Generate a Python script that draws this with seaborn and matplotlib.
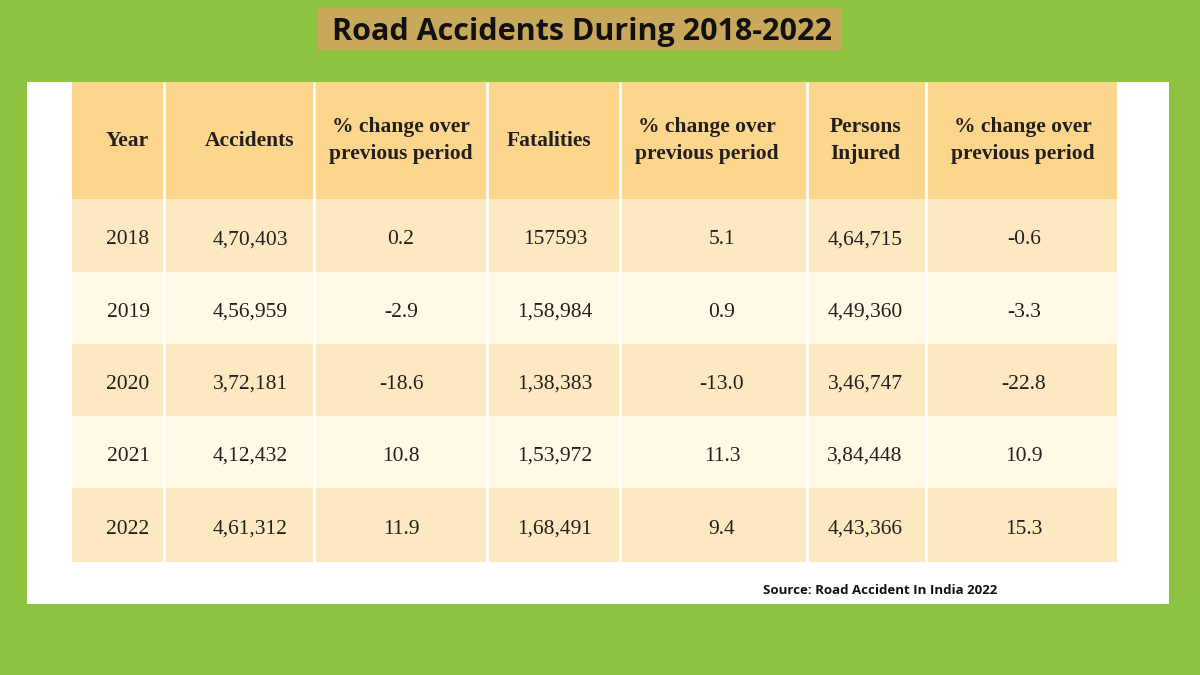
import numpy as np
import seaborn as sns
import matplotlib.pyplot as plt

# table content, as printed in the source
headers = ["Year", "Accidents", "% change over\nprevious period", "Fatalities",
           "% change over\nprevious period", "Persons\nInjured", "% change over\nprevious period"]
years = ["2018", "2019", "2020", "2021", "2022"]
accidents = ["4,70,403", "4,56,959", "3,72,181", "4,12,432", "4,61,312"]
acc_change = ["0.2", "-2.9", "-18.6", "10.8", "11.9"]
fatalities = ["157593", "1,58,984", "1,38,383", "1,53,972", "1,68,491"]
fat_change = ["5.1", "0.9", "-13.0", "11.3", "9.4"]
injured = ["4,64,715", "4,49,360", "3,46,747", "3,84,448", "4,43,366"]
inj_change = ["-0.6", "-3.3", "-22.8", "10.9", "15.3"]

title = "Road Accidents During 2018-2022"
source = "Source: Road Accident In India 2022"

# layout (pixel grid of the 1200x675 canvas)
col_edges = np.array([72, 164, 314, 487, 620, 807, 926, 1117])
row_edges = np.array([82, 199, 272, 344, 416, 488, 562])
text_x = [128, 250, 401, 555, 722, 865, 1024]
head_x = [127, 250, 401, 549, 707, 865, 1023]

GREEN = "#8DC340"
GOLD = "#C8A95C"
HEAD = "#FDD68E"
BAND_A = "#FDE9C1"
BAND_B = "#FFF9E6"
INK = "#231F1C"

sns.set_theme(style="white")
plt.rcParams['font.family'] = ['Liberation Serif', 'DejaVu Serif']

fig = plt.figure(figsize=(12, 6.75), dpi=100, facecolor=GREEN)
ax = fig.add_axes([0, 0, 1, 1])
ax.set_xlim(0, 1200)
ax.set_ylim(675, 0)
ax.axis("off")

# white panel and title box
ax.bar(27, 604 - 82, width=1169 - 27, bottom=82, align="edge", color="white",
       linewidth=0, zorder=1)
ax.bar(317, 50 - 8, width=842 - 317, bottom=8, align="edge", color=GOLD,
       linewidth=0, zorder=1)
ax.text(582, 40, title, ha="center", va="baseline", fontsize=22, fontweight="bold",
        family=["Open Sans", "DejaVu Sans"], color="#111111", zorder=3)

# cell backgrounds
lefts = col_edges[:-1]
widths = np.diff(col_edges)
band_colors = [HEAD] + [BAND_A if i % 2 == 0 else BAND_B for i in range(len(years))]
for r, color in enumerate(band_colors):
    ax.bar(lefts, row_edges[r + 1] - row_edges[r], width=widths, bottom=row_edges[r],
           align="edge", color=color, linewidth=0, zorder=2)
ax.vlines(col_edges[1:-1], row_edges[0], row_edges[-1], color="white", lw=2, zorder=2.5)

# header text
head_y = (row_edges[0] + row_edges[1]) / 2
for x, h in zip(head_x, headers):
    ax.text(x, head_y, h, ha="center", va="center", fontsize=15.5, fontweight="bold",
            color=INK, linespacing=1.45, zorder=3)

# body text
columns = [years, accidents, acc_change, fatalities, fat_change, injured, inj_change]
for r in range(len(years)):
    y = (row_edges[r + 1] + row_edges[r + 2]) / 2 + 9
    for x, col in zip(text_x, columns):
        ax.text(x, y, col[r], ha="center", va="baseline", fontsize=15.5, color=INK, zorder=3)

ax.text(880, 594, source, ha="center", va="baseline", fontsize=9.5, fontweight="bold",
        family=["Open Sans", "DejaVu Sans"], color="#111111", zorder=3)

fig.savefig("out.png", dpi=100, facecolor=GREEN)
